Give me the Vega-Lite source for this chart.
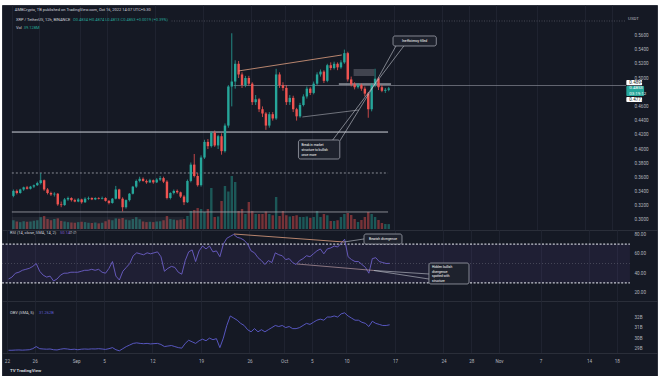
{
"$schema":"https://vega.github.io/schema/vega-lite/v6.json",
"background":"#ffffff",
"padding":{"left":0,"top":4,"right":5,"bottom":0},
"bounds":"flush",
"spacing":0,
"config":{"view":{"stroke":"#2a2e39","fill":"#151924","strokeWidth":1},"font":"Roboto","axis":{"labelFont":"Roboto"},
 "axisY":{"domain":false,"ticks":false,"labelPadding":1,"labelAlign":"left","labelColor":"#b2b5be","labelFontSize":4.6,"grid":false}},
"datasets":{
"c":[
{"t":22.23,"o":0.334,"h":0.343,"l":0.332,"c":0.341,"v":70,"r":34,"b":28.85},
{"t":22.73,"o":0.341,"h":0.343,"l":0.336,"c":0.338,"v":60,"r":36,"b":28.85},
{"t":23.23,"o":0.338,"h":0.344,"l":0.337,"c":0.343,"v":55,"r":40,"b":28.87},
{"t":23.73,"o":0.343,"h":0.347,"l":0.341,"c":0.346,"v":62,"r":41,"b":28.88},
{"t":24.23,"o":0.346,"h":0.348,"l":0.343,"c":0.344,"v":58,"r":43,"b":28.86},
{"t":24.73,"o":0.344,"h":0.348,"l":0.343,"c":0.347,"v":60,"r":44,"b":28.88},
{"t":25.23,"o":0.347,"h":0.350,"l":0.345,"c":0.349,"v":66,"r":45,"b":28.9},
{"t":25.73,"o":0.349,"h":0.354,"l":0.348,"c":0.352,"v":70,"r":47,"b":29.0},
{"t":26.23,"o":0.352,"h":0.366,"l":0.350,"c":0.356,"v":95,"r":50,"b":29.2},
{"t":26.73,"o":0.356,"h":0.357,"l":0.341,"c":0.343,"v":104,"r":42,"b":29.0},
{"t":27.23,"o":0.343,"h":0.345,"l":0.336,"c":0.338,"v":80,"r":38,"b":28.97},
{"t":27.73,"o":0.338,"h":0.340,"l":0.334,"c":0.336,"v":70,"r":36,"b":28.95},
{"t":28.23,"o":0.336,"h":0.339,"l":0.333,"c":0.337,"v":80,"r":37,"b":28.97},
{"t":28.73,"o":0.337,"h":0.338,"l":0.320,"c":0.322,"v":85,"r":32,"b":28.9},
{"t":29.23,"o":0.322,"h":0.326,"l":0.318,"c":0.321,"v":65,"r":34,"b":28.88},
{"t":29.73,"o":0.321,"h":0.331,"l":0.320,"c":0.329,"v":60,"r":38,"b":28.95},
{"t":30.23,"o":0.329,"h":0.333,"l":0.327,"c":0.331,"v":55,"r":40,"b":29.0},
{"t":30.73,"o":0.331,"h":0.332,"l":0.326,"c":0.328,"v":52,"r":40,"b":28.97},
{"t":31.23,"o":0.328,"h":0.330,"l":0.325,"c":0.326,"v":50,"r":41,"b":28.92},
{"t":31.73,"o":0.326,"h":0.331,"l":0.325,"c":0.329,"v":55,"r":41,"b":28.95},
{"t":32.23,"o":0.329,"h":0.330,"l":0.323,"c":0.325,"v":58,"r":41,"b":28.9},
{"t":32.73,"o":0.325,"h":0.332,"l":0.324,"c":0.330,"v":55,"r":42,"b":28.95},
{"t":33.23,"o":0.330,"h":0.333,"l":0.328,"c":0.331,"v":50,"r":43,"b":28.97},
{"t":33.73,"o":0.331,"h":0.332,"l":0.328,"c":0.329,"v":48,"r":43,"b":28.95},
{"t":34.23,"o":0.329,"h":0.332,"l":0.328,"c":0.331,"v":52,"r":44,"b":28.98},
{"t":34.73,"o":0.331,"h":0.332,"l":0.329,"c":0.330,"v":45,"r":43,"b":28.97},
{"t":35.23,"o":0.330,"h":0.333,"l":0.329,"c":0.331,"v":50,"r":44,"b":29.0},
{"t":35.73,"o":0.331,"h":0.332,"l":0.326,"c":0.327,"v":62,"r":41,"b":28.97},
{"t":36.23,"o":0.327,"h":0.328,"l":0.322,"c":0.324,"v":75,"r":40,"b":28.93},
{"t":36.73,"o":0.324,"h":0.331,"l":0.323,"c":0.330,"v":70,"r":45,"b":29.0},
{"t":37.23,"o":0.330,"h":0.348,"l":0.329,"c":0.343,"v":85,"r":52,"b":29.1},
{"t":37.73,"o":0.343,"h":0.344,"l":0.329,"c":0.330,"v":82,"r":37,"b":28.9},
{"t":38.23,"o":0.330,"h":0.332,"l":0.312,"c":0.318,"v":88,"r":33,"b":28.8},
{"t":38.73,"o":0.318,"h":0.329,"l":0.316,"c":0.328,"v":75,"r":42,"b":29.0},
{"t":39.23,"o":0.328,"h":0.338,"l":0.326,"c":0.337,"v":70,"r":46,"b":29.2},
{"t":39.73,"o":0.337,"h":0.348,"l":0.336,"c":0.347,"v":80,"r":50,"b":29.35},
{"t":40.23,"o":0.347,"h":0.357,"l":0.345,"c":0.355,"v":95,"r":58,"b":29.5},
{"t":40.73,"o":0.355,"h":0.361,"l":0.353,"c":0.358,"v":78,"r":61,"b":29.55},
{"t":41.23,"o":0.358,"h":0.360,"l":0.354,"c":0.355,"v":60,"r":60,"b":29.5},
{"t":41.73,"o":0.355,"h":0.357,"l":0.351,"c":0.353,"v":55,"r":59,"b":29.47},
{"t":42.23,"o":0.353,"h":0.358,"l":0.352,"c":0.356,"v":58,"r":61,"b":29.5},
{"t":42.73,"o":0.356,"h":0.357,"l":0.351,"c":0.353,"v":55,"r":60,"b":29.45},
{"t":43.23,"o":0.353,"h":0.359,"l":0.352,"c":0.357,"v":60,"r":61,"b":29.48},
{"t":43.73,"o":0.357,"h":0.362,"l":0.355,"c":0.359,"v":62,"r":62,"b":29.5},
{"t":44.23,"o":0.359,"h":0.361,"l":0.352,"c":0.354,"v":70,"r":57,"b":29.4},
{"t":44.73,"o":0.354,"h":0.356,"l":0.329,"c":0.331,"v":104,"r":42,"b":29.2},
{"t":45.23,"o":0.331,"h":0.339,"l":0.329,"c":0.338,"v":80,"r":45,"b":29.25},
{"t":45.73,"o":0.338,"h":0.343,"l":0.336,"c":0.341,"v":75,"r":47,"b":29.3},
{"t":46.23,"o":0.341,"h":0.343,"l":0.337,"c":0.339,"v":70,"r":46,"b":29.2},
{"t":46.73,"o":0.339,"h":0.340,"l":0.331,"c":0.333,"v":75,"r":41,"b":29.1},
{"t":47.23,"o":0.333,"h":0.335,"l":0.321,"c":0.325,"v":80,"r":39,"b":29.05},
{"t":47.73,"o":0.325,"h":0.357,"l":0.324,"c":0.355,"v":104,"r":53,"b":29.5},
{"t":48.23,"o":0.355,"h":0.381,"l":0.353,"c":0.378,"v":144,"r":62,"b":29.8},
{"t":48.73,"o":0.378,"h":0.393,"l":0.360,"c":0.362,"v":152,"r":64,"b":29.65},
{"t":49.23,"o":0.362,"h":0.366,"l":0.347,"c":0.349,"v":168,"r":52,"b":29.5},
{"t":49.73,"o":0.349,"h":0.391,"l":0.347,"c":0.388,"v":160,"r":63,"b":29.75},
{"t":50.23,"o":0.388,"h":0.413,"l":0.386,"c":0.410,"v":136,"r":68,"b":29.9},
{"t":50.73,"o":0.410,"h":0.414,"l":0.400,"c":0.404,"v":160,"r":65,"b":29.75},
{"t":51.23,"o":0.404,"h":0.425,"l":0.402,"c":0.423,"v":328,"r":68,"b":30.0},
{"t":51.73,"o":0.423,"h":0.426,"l":0.403,"c":0.405,"v":96,"r":62,"b":29.85},
{"t":52.23,"o":0.405,"h":0.420,"l":0.400,"c":0.418,"v":100,"r":63,"b":29.95},
{"t":52.73,"o":0.418,"h":0.422,"l":0.392,"c":0.397,"v":224,"r":57,"b":29.1},
{"t":53.23,"o":0.397,"h":0.436,"l":0.395,"c":0.433,"v":344,"r":70,"b":30.0},
{"t":53.73,"o":0.433,"h":0.490,"l":0.430,"c":0.488,"v":300,"r":76,"b":31.2},
{"t":54.23,"o":0.488,"h":0.563,"l":0.460,"c":0.495,"v":424,"r":78,"b":32.1},
{"t":54.73,"o":0.495,"h":0.525,"l":0.485,"c":0.520,"v":376,"r":80,"b":31.9},
{"t":55.23,"o":0.520,"h":0.524,"l":0.500,"c":0.505,"v":144,"r":77,"b":31.7},
{"t":55.73,"o":0.505,"h":0.508,"l":0.486,"c":0.490,"v":160,"r":76,"b":31.4},
{"t":56.23,"o":0.490,"h":0.503,"l":0.487,"c":0.500,"v":120,"r":74,"b":31.2},
{"t":56.73,"o":0.500,"h":0.503,"l":0.489,"c":0.492,"v":216,"r":70,"b":30.8},
{"t":57.23,"o":0.492,"h":0.494,"l":0.462,"c":0.466,"v":144,"r":63,"b":30.6},
{"t":57.73,"o":0.466,"h":0.476,"l":0.462,"c":0.470,"v":120,"r":61,"b":30.9},
{"t":58.23,"o":0.470,"h":0.472,"l":0.452,"c":0.456,"v":120,"r":56,"b":30.6},
{"t":58.73,"o":0.456,"h":0.460,"l":0.445,"c":0.450,"v":120,"r":53,"b":30.8},
{"t":59.23,"o":0.450,"h":0.452,"l":0.427,"c":0.433,"v":140,"r":49,"b":30.6},
{"t":59.73,"o":0.433,"h":0.452,"l":0.430,"c":0.449,"v":120,"r":53,"b":30.8},
{"t":60.23,"o":0.449,"h":0.452,"l":0.440,"c":0.443,"v":110,"r":51,"b":31.0},
{"t":60.73,"o":0.443,"h":0.513,"l":0.441,"c":0.505,"v":256,"r":61,"b":31.2},
{"t":61.23,"o":0.505,"h":0.508,"l":0.486,"c":0.490,"v":104,"r":59,"b":31.1},
{"t":61.73,"o":0.490,"h":0.494,"l":0.482,"c":0.486,"v":144,"r":58,"b":31.2},
{"t":62.23,"o":0.486,"h":0.490,"l":0.462,"c":0.466,"v":110,"r":54,"b":31.0},
{"t":62.73,"o":0.466,"h":0.476,"l":0.462,"c":0.472,"v":100,"r":55,"b":31.1},
{"t":63.23,"o":0.472,"h":0.475,"l":0.452,"c":0.456,"v":104,"r":51,"b":30.9},
{"t":63.73,"o":0.456,"h":0.458,"l":0.440,"c":0.446,"v":110,"r":49,"b":30.9},
{"t":64.23,"o":0.446,"h":0.465,"l":0.444,"c":0.462,"v":96,"r":53,"b":31.0},
{"t":64.73,"o":0.462,"h":0.477,"l":0.460,"c":0.474,"v":96,"r":55,"b":31.2},
{"t":65.23,"o":0.474,"h":0.488,"l":0.471,"c":0.485,"v":100,"r":58,"b":31.4},
{"t":65.73,"o":0.485,"h":0.487,"l":0.476,"c":0.479,"v":90,"r":57,"b":31.3},
{"t":66.23,"o":0.479,"h":0.495,"l":0.477,"c":0.492,"v":96,"r":60,"b":31.5},
{"t":66.73,"o":0.492,"h":0.508,"l":0.490,"c":0.505,"v":144,"r":63,"b":31.7},
{"t":67.23,"o":0.505,"h":0.512,"l":0.502,"c":0.509,"v":96,"r":65,"b":31.8},
{"t":67.73,"o":0.509,"h":0.511,"l":0.493,"c":0.496,"v":120,"r":60,"b":31.7},
{"t":68.23,"o":0.496,"h":0.520,"l":0.494,"c":0.518,"v":110,"r":65,"b":32.0},
{"t":68.73,"o":0.518,"h":0.522,"l":0.511,"c":0.514,"v":64,"r":66,"b":32.0},
{"t":69.23,"o":0.514,"h":0.523,"l":0.512,"c":0.520,"v":64,"r":68,"b":32.1},
{"t":69.73,"o":0.520,"h":0.522,"l":0.511,"c":0.515,"v":70,"r":67,"b":32.0},
{"t":70.23,"o":0.515,"h":0.525,"l":0.513,"c":0.522,"v":96,"r":71,"b":32.3},
{"t":70.73,"o":0.522,"h":0.540,"l":0.520,"c":0.535,"v":120,"r":75,"b":32.4},
{"t":71.23,"o":0.535,"h":0.537,"l":0.495,"c":0.498,"v":128,"r":57,"b":32.1},
{"t":71.73,"o":0.498,"h":0.502,"l":0.488,"c":0.491,"v":112,"r":54,"b":31.9},
{"t":72.23,"o":0.491,"h":0.494,"l":0.484,"c":0.487,"v":80,"r":52,"b":31.7},
{"t":72.73,"o":0.487,"h":0.493,"l":0.485,"c":0.490,"v":56,"r":52,"b":31.7},
{"t":73.23,"o":0.490,"h":0.492,"l":0.482,"c":0.485,"v":72,"r":49,"b":31.5},
{"t":73.73,"o":0.485,"h":0.488,"l":0.474,"c":0.478,"v":96,"r":46,"b":31.4},
{"t":74.23,"o":0.478,"h":0.480,"l":0.444,"c":0.456,"v":136,"r":40,"b":31.1},
{"t":74.73,"o":0.456,"h":0.493,"l":0.453,"c":0.490,"v":120,"r":55,"b":31.6},
{"t":75.23,"o":0.490,"h":0.513,"l":0.487,"c":0.499,"v":96,"r":56,"b":31.4},
{"t":75.73,"o":0.499,"h":0.501,"l":0.483,"c":0.487,"v":72,"r":52,"b":31.3},
{"t":76.23,"o":0.487,"h":0.490,"l":0.480,"c":0.482,"v":48,"r":51,"b":31.2},
{"t":76.73,"o":0.482,"h":0.486,"l":0.479,"c":0.4834,"v":40,"r":50,"b":31.2},
{"t":77.23,"o":0.4834,"h":0.4874,"l":0.4813,"c":0.4853,"v":39.128,"r":50.14,"b":31.262}
]},
"vconcat":[
{
"width":655,"height":225,
"encoding":{"x":{"field":"t","type":"quantitative","scale":{"domain":[21.29,115.81],"nice":false,"zero":false},"axis":{"values":[22,26,32,36,43,50,57,62,66,71,78,85,89,93,99,106,110],"labels":false,"ticks":false,"domain":false,"grid":true,"gridColor":"#1f2330","title":null}}},
"layer":[
{"data":{"name":"c"},"mark":{"type":"bar","width":2.4,"opacity":0.45},
 "encoding":{"y":{"field":"v","type":"quantitative","scale":{"domain":[-8,1792],"nice":false},"axis":null},
 "color":{"condition":{"test":"datum.c >= datum.o","value":"#26a69a"},"value":"#ef5350"}}},
{"layer":[
 {"data":{"values":[{"t":22.0,"t2":77.13,"p":0.4239},{"t":69.92,"t2":77.57,"p":0.4915}]},
  "mark":{"type":"rule","color":"#d1d4dc","strokeWidth":1},
  "encoding":{"x2":{"field":"t2"},"y":{"field":"p","type":"quantitative","scale":{"domain":[0.285915,0.60282],"nice":false,"zero":false},"axis":{"orient":"right","offset":-24,"values":[0.30,0.32,0.34,0.36,0.38,0.40,0.42,0.44,0.46,0.50,0.52,0.54,0.56],"format":".4f","title":null}}}},
 {"data":{"values":[{"t":22.0,"t2":77.13,"p":0.3662}]},
  "mark":{"type":"rule","color":"#9598a1","strokeWidth":0.9,"strokeDash":[2,2]},
  "encoding":{"x2":{"field":"t2"},"y":{"field":"p","type":"quantitative","scale":{"domain":[0.285915,0.60282],"nice":false,"zero":false},"axis":{"orient":"right","offset":-24,"values":[0.30,0.32,0.34,0.36,0.38,0.40,0.42,0.44,0.46,0.50,0.52,0.54,0.56],"format":".4f","title":null}}}},
 {"data":{"values":[{"t":22.0,"t2":77.13,"p":0.3113}]},
  "mark":{"type":"rule","color":"#a3a6af","strokeWidth":0.8},
  "encoding":{"x2":{"field":"t2"},"y":{"field":"p","type":"quantitative","scale":{"domain":[0.285915,0.60282],"nice":false,"zero":false},"axis":{"orient":"right","offset":-24,"values":[0.30,0.32,0.34,0.36,0.38,0.40,0.42,0.44,0.46,0.50,0.52,0.54,0.56],"format":".4f","title":null}}}},
 {"data":{"values":[{"t":54.5,"t2":112.0,"p":0.4894}]},
  "mark":{"type":"rule","color":"#868993","strokeWidth":0.7},
  "encoding":{"x2":{"field":"t2"},"y":{"field":"p","type":"quantitative","scale":{"domain":[0.285915,0.60282],"nice":false,"zero":false},"axis":{"orient":"right","offset":-24,"values":[0.30,0.32,0.34,0.36,0.38,0.40,0.42,0.44,0.46,0.50,0.52,0.54,0.56],"format":".4f","title":null}}}},
 {"data":{"values":[{"t":45.4,"t2":112.0,"p":0.5803}]},
  "mark":{"type":"rule","color":"#5d606b","strokeWidth":0.7,"strokeDash":[1,1.5]},
  "encoding":{"x2":{"field":"t2"},"y":{"field":"p","type":"quantitative","scale":{"domain":[0.285915,0.60282],"nice":false,"zero":false},"axis":{"orient":"right","offset":-24,"values":[0.30,0.32,0.34,0.36,0.38,0.40,0.42,0.44,0.46,0.50,0.52,0.54,0.56],"format":".4f","title":null}}}},
 {"data":{"values":[{"t":22.0,"t2":47.2,"p":0.2873,"p2":0.3042}]},
  "mark":{"type":"rect","color":"#9598a1","opacity":0.1},
  "encoding":{"x2":{"field":"t2"},"y":{"field":"p","type":"quantitative","scale":{"domain":[0.285915,0.60282],"nice":false,"zero":false},"axis":{"orient":"right","offset":-24,"values":[0.30,0.32,0.34,0.36,0.38,0.40,0.42,0.44,0.46,0.50,0.52,0.54,0.56],"format":".4f","title":null}},"y2":{"field":"p2"}}},
 {"data":{"name":"c"},"mark":{"type":"rule","strokeWidth":0.8},
  "encoding":{"y":{"field":"l","type":"quantitative","scale":{"domain":[0.285915,0.60282],"nice":false,"zero":false},"axis":{"orient":"right","offset":-24,"values":[0.30,0.32,0.34,0.36,0.38,0.40,0.42,0.44,0.46,0.50,0.52,0.54,0.56],"format":".4f","title":null}},"y2":{"field":"h"},
  "color":{"condition":{"test":"datum.c >= datum.o","value":"#26a69a"},"value":"#ef5350"}}},
 {"data":{"name":"c"},"mark":{"type":"bar","width":2.4},
  "encoding":{"y":{"field":"o","type":"quantitative","scale":{"domain":[0.285915,0.60282],"nice":false,"zero":false},"axis":{"orient":"right","offset":-24,"values":[0.30,0.32,0.34,0.36,0.38,0.40,0.42,0.44,0.46,0.50,0.52,0.54,0.56],"format":".4f","title":null}},"y2":{"field":"c"},
  "color":{"condition":{"test":"datum.c >= datum.o","value":"#26a69a"},"value":"#ef5350"}}},
 {"data":{"values":[{"t":72.08,"t2":75.11,"p":0.5028,"p2":0.5127}]},
  "mark":{"type":"rect","color":"#b2b5be","opacity":0.28},
  "encoding":{"x2":{"field":"t2"},"y":{"field":"p","type":"quantitative","scale":{"domain":[0.285915,0.60282],"nice":false,"zero":false},"axis":{"orient":"right","offset":-24,"values":[0.30,0.32,0.34,0.36,0.38,0.40,0.42,0.44,0.46,0.50,0.52,0.54,0.56],"format":".4f","title":null}},"y2":{"field":"p2"}}},
 {"data":{"values":[{"t":55.2,"t2":70.35,"p":0.5099,"p2":0.5324}]},
  "mark":{"type":"rule","color":"#e0a080","strokeWidth":0.8},
  "encoding":{"x2":{"field":"t2"},"y":{"field":"p","type":"quantitative","scale":{"domain":[0.285915,0.60282],"nice":false,"zero":false},"axis":{"orient":"right","offset":-24,"values":[0.30,0.32,0.34,0.36,0.38,0.40,0.42,0.44,0.46,0.50,0.52,0.54,0.56],"format":".4f","title":null}},"y2":{"field":"p2"}}},
 {"data":{"values":[{"t":64.58,"t2":72.8,"p":0.4451,"p2":0.4549}]},
  "mark":{"type":"rule","color":"#9598a1","strokeWidth":0.7},
  "encoding":{"x2":{"field":"t2"},"y":{"field":"p","type":"quantitative","scale":{"domain":[0.285915,0.60282],"nice":false,"zero":false},"axis":{"orient":"right","offset":-24,"values":[0.30,0.32,0.34,0.36,0.38,0.40,0.42,0.44,0.46,0.50,0.52,0.54,0.56],"format":".4f","title":null}},"y2":{"field":"p2"}}},
 {"data":{"values":[{"t":78.29,"p":0.5451,"t2":75.11,"p2":0.4901},{"t":79.44,"p":0.5451,"t2":75.11,"p2":0.4901},{"t":68.91,"p":0.4113,"t2":75.11,"p2":0.4901},{"t":70.06,"p":0.4113,"t2":75.11,"p2":0.4901}]},
  "mark":{"type":"rule","color":"#c5c8d0","strokeWidth":0.6},
  "encoding":{"x2":{"field":"t2"},"y":{"field":"p","type":"quantitative","scale":{"domain":[0.285915,0.60282],"nice":false,"zero":false},"axis":{"orient":"right","offset":-24,"values":[0.30,0.32,0.34,0.36,0.38,0.40,0.42,0.44,0.46,0.50,0.52,0.54,0.56],"format":".4f","title":null}},"y2":{"field":"p2"}}},
 {"data":{"values":[{"t":77.86,"t2":84.2,"p":0.5451,"p2":0.5592},{"t":64.0,"t2":70.06,"p":0.3859,"p2":0.4127}]},
  "mark":{"type":"rect","fill":"#1e222d","stroke":"#b2b5be","strokeWidth":0.7,"cornerRadius":2},
  "encoding":{"x2":{"field":"t2"},"y":{"field":"p","type":"quantitative","scale":{"domain":[0.285915,0.60282],"nice":false,"zero":false},"axis":{"orient":"right","offset":-24,"values":[0.30,0.32,0.34,0.36,0.38,0.40,0.42,0.44,0.46,0.50,0.52,0.54,0.56],"format":".4f","title":null}},"y2":{"field":"p2"}}},
 {"data":{"values":[{"t":81.03,"p":0.5521,"s":"Inefficiency filled"}]},
  "mark":{"type":"text","align":"center","baseline":"middle","fontSize":3.4,"color":"#ffffff"},
  "encoding":{"y":{"field":"p","type":"quantitative","scale":{"domain":[0.285915,0.60282],"nice":false,"zero":false},"axis":{"orient":"right","offset":-24,"values":[0.30,0.32,0.34,0.36,0.38,0.40,0.42,0.44,0.46,0.50,0.52,0.54,0.56],"format":".4f","title":null}},"text":{"field":"s"}}},
 {"data":{"values":[{"t":64.44,"p":0.4056,"s":"Break in market"},{"t":64.44,"p":0.3986,"s":"structure to bullish"},{"t":64.44,"p":0.3915,"s":"once more"}]},
  "mark":{"type":"text","align":"left","baseline":"middle","fontSize":3.2,"color":"#ffffff"},
  "encoding":{"y":{"field":"p","type":"quantitative","scale":{"domain":[0.285915,0.60282],"nice":false,"zero":false},"axis":{"orient":"right","offset":-24,"values":[0.30,0.32,0.34,0.36,0.38,0.40,0.42,0.44,0.46,0.50,0.52,0.54,0.56],"format":".4f","title":null}},"text":{"field":"s"}}},
 {"data":{"values":[{"t":22.44,"p":0.5958,"s":"AMBCrypto, TB published on TradingView.com, Oct 16, 2022 14:07 UTC+5:30"},{"t":22.6,"p":0.5817,"s":"XRP / TetherUS, 12h, BINANCE"},{"t":22.6,"p":0.5704,"s":"Vol"}]},
  "mark":{"type":"text","align":"left","baseline":"middle","fontSize":4,"color":"#d1d4dc"},
  "encoding":{"y":{"field":"p","type":"quantitative","scale":{"domain":[0.285915,0.60282],"nice":false,"zero":false},"axis":{"orient":"right","offset":-24,"values":[0.30,0.32,0.34,0.36,0.38,0.40,0.42,0.44,0.46,0.50,0.52,0.54,0.56],"format":".4f","title":null}},"text":{"field":"s"}}},
 {"data":{"values":[{"t":30.96,"p":0.5817,"s":"O0.4834 H0.4874 L0.4813 C0.4853 +0.0019 (+0.39%)"},{"t":23.74,"p":0.5704,"s":"39.128M"}]},
  "mark":{"type":"text","align":"left","baseline":"middle","fontSize":4,"color":"#26a69a"},
  "encoding":{"y":{"field":"p","type":"quantitative","scale":{"domain":[0.285915,0.60282],"nice":false,"zero":false},"axis":{"orient":"right","offset":-24,"values":[0.30,0.32,0.34,0.36,0.38,0.40,0.42,0.44,0.46,0.50,0.52,0.54,0.56],"format":".4f","title":null}},"text":{"field":"s"}}},
 {"data":{"values":[{"t":112.05,"t2":114.36,"p":0.4897,"p2":0.4972},{"t":112.05,"t2":114.36,"p":0.4662,"p2":0.4732}]},
  "mark":{"type":"rect","fill":"#ffffff","cornerRadius":1},
  "encoding":{"x2":{"field":"t2"},"y":{"field":"p","type":"quantitative","scale":{"domain":[0.285915,0.60282],"nice":false,"zero":false},"axis":{"orient":"right","offset":-24,"values":[0.30,0.32,0.34,0.36,0.38,0.40,0.42,0.44,0.46,0.50,0.52,0.54,0.56],"format":".4f","title":null}},"y2":{"field":"p2"}}},
 {"data":{"values":[{"t":112.05,"t2":114.65,"p":0.4746,"p2":0.4887}]},
  "mark":{"type":"rect","fill":"#26a69a","cornerRadius":1},
  "encoding":{"x2":{"field":"t2"},"y":{"field":"p","type":"quantitative","scale":{"domain":[0.285915,0.60282],"nice":false,"zero":false},"axis":{"orient":"right","offset":-24,"values":[0.30,0.32,0.34,0.36,0.38,0.40,0.42,0.44,0.46,0.50,0.52,0.54,0.56],"format":".4f","title":null}},"y2":{"field":"p2"}}},
 {"data":{"values":[{"t":112.49,"p":0.4934,"s":"0.4894"},{"t":112.49,"p":0.4697,"s":"0.4777"}]},
  "mark":{"type":"text","align":"left","baseline":"middle","fontSize":4.6,"color":"#131722"},
  "encoding":{"y":{"field":"p","type":"quantitative","scale":{"domain":[0.285915,0.60282],"nice":false,"zero":false},"axis":{"orient":"right","offset":-24,"values":[0.30,0.32,0.34,0.36,0.38,0.40,0.42,0.44,0.46,0.50,0.52,0.54,0.56],"format":".4f","title":null}},"text":{"field":"s"}}},
 {"data":{"values":[{"t":112.49,"p":0.4857,"s":"0.4853"},{"t":112.49,"p":0.4780,"s":"03:19:12"}]},
  "mark":{"type":"text","align":"left","baseline":"middle","fontSize":4.4,"color":"#ffffff"},
  "encoding":{"y":{"field":"p","type":"quantitative","scale":{"domain":[0.285915,0.60282],"nice":false,"zero":false},"axis":{"orient":"right","offset":-24,"values":[0.30,0.32,0.34,0.36,0.38,0.40,0.42,0.44,0.46,0.50,0.52,0.54,0.56],"format":".4f","title":null}},"text":{"field":"s"}}},
 {"data":{"values":[{"t":112.3,"p":0.5831,"s":"USDT"}]},
  "mark":{"type":"text","align":"left","baseline":"middle","fontSize":4.4,"color":"#b2b5be"},
  "encoding":{"y":{"field":"p","type":"quantitative","scale":{"domain":[0.285915,0.60282],"nice":false,"zero":false},"axis":{"orient":"right","offset":-24,"values":[0.30,0.32,0.34,0.36,0.38,0.40,0.42,0.44,0.46,0.50,0.52,0.54,0.56],"format":".4f","title":null}},"text":{"field":"s"}}}
]}
],
"resolve":{"scale":{"y":"independent"}}
},
{
"width":655,"height":71,
"encoding":{"x":{"field":"t","type":"quantitative","scale":{"domain":[21.29,115.81],"nice":false,"zero":false},"axis":{"values":[22,26,32,36,43,50,57,62,66,71,78,85,89,93,99,106,110],"labels":false,"ticks":false,"domain":false,"grid":true,"gridColor":"#1f2330","title":null}}},
"layer":[
 {"data":{"values":[{"t":21.29,"t2":111.9,"p":30,"p2":70}]},
  "mark":{"type":"rect","color":"#7e57c2","opacity":0.1},
  "encoding":{"x2":{"field":"t2"},"y":{"field":"p","type":"quantitative","scale":{"domain":[11.34,84.54],"nice":false,"zero":false},"axis":{"orient":"right","offset":-24,"values":[20,40,60,80],"format":".2f","title":null}},"y2":{"field":"p2"}}},
 {"data":{"values":[{"t":21.29,"t2":111.9,"p":70},{"t":21.29,"t2":111.9,"p":30}]},
  "mark":{"type":"rule","color":"#c5c8d0","strokeWidth":1.3,"strokeDash":[2,1.6]},
  "encoding":{"x2":{"field":"t2"},"y":{"field":"p","type":"quantitative","scale":{"domain":[11.34,84.54],"nice":false,"zero":false},"axis":{"orient":"right","offset":-24,"values":[20,40,60,80],"format":".2f","title":null}}}},
 {"data":{"values":[{"t":21.29,"t2":111.9,"p":50}]},
  "mark":{"type":"rule","color":"#787b86","strokeWidth":0.7,"strokeDash":[1,2],"opacity":0.6},
  "encoding":{"x2":{"field":"t2"},"y":{"field":"p","type":"quantitative","scale":{"domain":[11.34,84.54],"nice":false,"zero":false},"axis":{"orient":"right","offset":-24,"values":[20,40,60,80],"format":".2f","title":null}}}},
 {"data":{"name":"c"},"mark":{"type":"line","color":"#6c5fc7","strokeWidth":0.9},
  "encoding":{"y":{"field":"r","type":"quantitative","scale":{"domain":[11.34,84.54],"nice":false,"zero":false},"axis":{"orient":"right","offset":-24,"values":[20,40,60,80],"format":".2f","title":null}}}},
 {"data":{"values":[{"t":54.77,"t2":70.64,"p":80.41,"p2":72.16}]},
  "mark":{"type":"rule","color":"#e0a080","strokeWidth":0.8},
  "encoding":{"x2":{"field":"t2"},"y":{"field":"p","type":"quantitative","scale":{"domain":[11.34,84.54],"nice":false,"zero":false},"axis":{"orient":"right","offset":-24,"values":[20,40,60,80],"format":".2f","title":null}},"y2":{"field":"p2"}}},
 {"data":{"values":[{"t":63.86,"t2":74.97,"p":49.5,"p2":42.8}]},
  "mark":{"type":"rule","color":"#b89aa0","strokeWidth":0.7},
  "encoding":{"x2":{"field":"t2"},"y":{"field":"p","type":"quantitative","scale":{"domain":[11.34,84.54],"nice":false,"zero":false},"axis":{"orient":"right","offset":-24,"values":[20,40,60,80],"format":".2f","title":null}},"y2":{"field":"p2"}}},
 {"data":{"values":[{"t":70.64,"p":72.16,"t2":73.53,"p2":75.3},{"t":74.97,"p":42.8,"t2":82.9,"p2":39.2},{"t":74.97,"p":42.8,"t2":82.9,"p2":34.0}]},
  "mark":{"type":"rule","color":"#c5c8d0","strokeWidth":0.6},
  "encoding":{"x2":{"field":"t2"},"y":{"field":"p","type":"quantitative","scale":{"domain":[11.34,84.54],"nice":false,"zero":false},"axis":{"orient":"right","offset":-24,"values":[20,40,60,80],"format":".2f","title":null}},"y2":{"field":"p2"}}},
 {"data":{"values":[{"t":73.53,"t2":79.01,"p":70.1,"p2":80.41},{"t":82.9,"t2":88.68,"p":28.87,"p2":50.5}]},
  "mark":{"type":"rect","fill":"#1e222d","stroke":"#b2b5be","strokeWidth":0.7,"cornerRadius":2},
  "encoding":{"x2":{"field":"t2"},"y":{"field":"p","type":"quantitative","scale":{"domain":[11.34,84.54],"nice":false,"zero":false},"axis":{"orient":"right","offset":-24,"values":[20,40,60,80],"format":".2f","title":null}},"y2":{"field":"p2"}}},
 {"data":{"values":[{"t":76.27,"p":75.26,"s":"Bearish divergence"}]},
  "mark":{"type":"text","align":"center","baseline":"middle","fontSize":3.3,"color":"#ffffff"},
  "encoding":{"y":{"field":"p","type":"quantitative","scale":{"domain":[11.34,84.54],"nice":false,"zero":false},"axis":{"orient":"right","offset":-24,"values":[20,40,60,80],"format":".2f","title":null}},"text":{"field":"s"}}},
 {"data":{"values":[{"t":83.34,"p":46.4,"s":"Hidden bullish"},{"t":83.34,"p":41.75,"s":"divergence"},{"t":83.34,"p":37.1,"s":"spotted with"},{"t":83.34,"p":32.5,"s":"structure"}]},
  "mark":{"type":"text","align":"left","baseline":"middle","fontSize":3.2,"color":"#ffffff"},
  "encoding":{"y":{"field":"p","type":"quantitative","scale":{"domain":[11.34,84.54],"nice":false,"zero":false},"axis":{"orient":"right","offset":-24,"values":[20,40,60,80],"format":".2f","title":null}},"text":{"field":"s"}}},
 {"data":{"values":[{"t":22.44,"p":81.44,"s":"RSI (14, close, SMA, 14, 2)"},{"t":30.96,"p":81.44,"s":"∅  ∅"}]},
  "mark":{"type":"text","align":"left","baseline":"middle","fontSize":4,"color":"#d1d4dc"},
  "encoding":{"y":{"field":"p","type":"quantitative","scale":{"domain":[11.34,84.54],"nice":false,"zero":false},"axis":{"orient":"right","offset":-24,"values":[20,40,60,80],"format":".2f","title":null}},"text":{"field":"s"}}},
 {"data":{"values":[{"t":29.66,"p":81.44,"s":"50.14"}]},
  "mark":{"type":"text","align":"left","baseline":"middle","fontSize":4,"color":"#7e57c2"},
  "encoding":{"y":{"field":"p","type":"quantitative","scale":{"domain":[11.34,84.54],"nice":false,"zero":false},"axis":{"orient":"right","offset":-24,"values":[20,40,60,80],"format":".2f","title":null}},"text":{"field":"s"}}}
]
},
{
"width":655,"height":52,
"encoding":{"x":{"field":"t","type":"quantitative","scale":{"domain":[21.29,115.81],"nice":false,"zero":false},"axis":{"values":[22,26,32,36,43,50,57,62,66,71,78,85,89,93,99,106,110],"labels":false,"ticks":false,"domain":false,"grid":true,"gridColor":"#1f2330","title":null}}},
"layer":[
 {"data":{"name":"c"},"mark":{"type":"line","color":"#5e5ccf","strokeWidth":0.9},
  "encoding":{"y":{"field":"b","type":"quantitative","scale":{"domain":[28.59,33.52],"nice":false,"zero":false},"axis":{"orient":"right","offset":-24,"values":[29,30,31,32],"labelExpr":"datum.value + 'B'","title":null}}}},
 {"data":{"values":[{"t":22.44,"p":32.38,"s":"OBV (SMA, 5)"}]},
  "mark":{"type":"text","align":"left","baseline":"middle","fontSize":4,"color":"#d1d4dc"},
  "encoding":{"y":{"field":"p","type":"quantitative","scale":{"domain":[28.59,33.52],"nice":false,"zero":false},"axis":{"orient":"right","offset":-24,"values":[29,30,31,32],"labelExpr":"datum.value + 'B'","title":null}},"text":{"field":"s"}}},
 {"data":{"values":[{"t":26.63,"p":32.38,"s":"31.262B"}]},
  "mark":{"type":"text","align":"left","baseline":"middle","fontSize":4,"color":"#5e5ccf"},
  "encoding":{"y":{"field":"p","type":"quantitative","scale":{"domain":[28.59,33.52],"nice":false,"zero":false},"axis":{"orient":"right","offset":-24,"values":[29,30,31,32],"labelExpr":"datum.value + 'B'","title":null}},"text":{"field":"s"}}}
]
},
{
"width":655,"height":24,
"layer":[
 {"data":{"values":[{"t":22.44,"p":6,"s":"TV TradingView"}]},
  "mark":{"type":"text","align":"left","baseline":"middle","fontSize":4.4,"fontWeight":"bold","color":"#d1d4dc"},
  "encoding":{"x":{"field":"t","type":"quantitative","scale":{"domain":[21.29,115.81],"nice":false,"zero":false},
   "axis":{"values":[22,26,32,36,43,50,57,62,66,71,78,85,89,93,99,106,110],"labelExpr":"datum.value == 32 ? 'Sep' : datum.value == 62 ? 'Oct' : datum.value == 93 ? 'Nov' : datum.value < 32 ? datum.value : datum.value < 62 ? datum.value - 31 : datum.value < 93 ? datum.value - 61 : datum.value - 92","orient":"bottom","offset":-16,"labelBaseline":"middle","labelPadding":0,"ticks":false,"domain":false,"grid":false,"labelColor":"#b2b5be","labelFontSize":4.6,"labelFlush":false,"labelOverlap":false,"title":null}},
  "y":{"field":"p","type":"quantitative","scale":{"domain":[0,24],"nice":false},"axis":null},"text":{"field":"s"}}}
]
}
]
}
